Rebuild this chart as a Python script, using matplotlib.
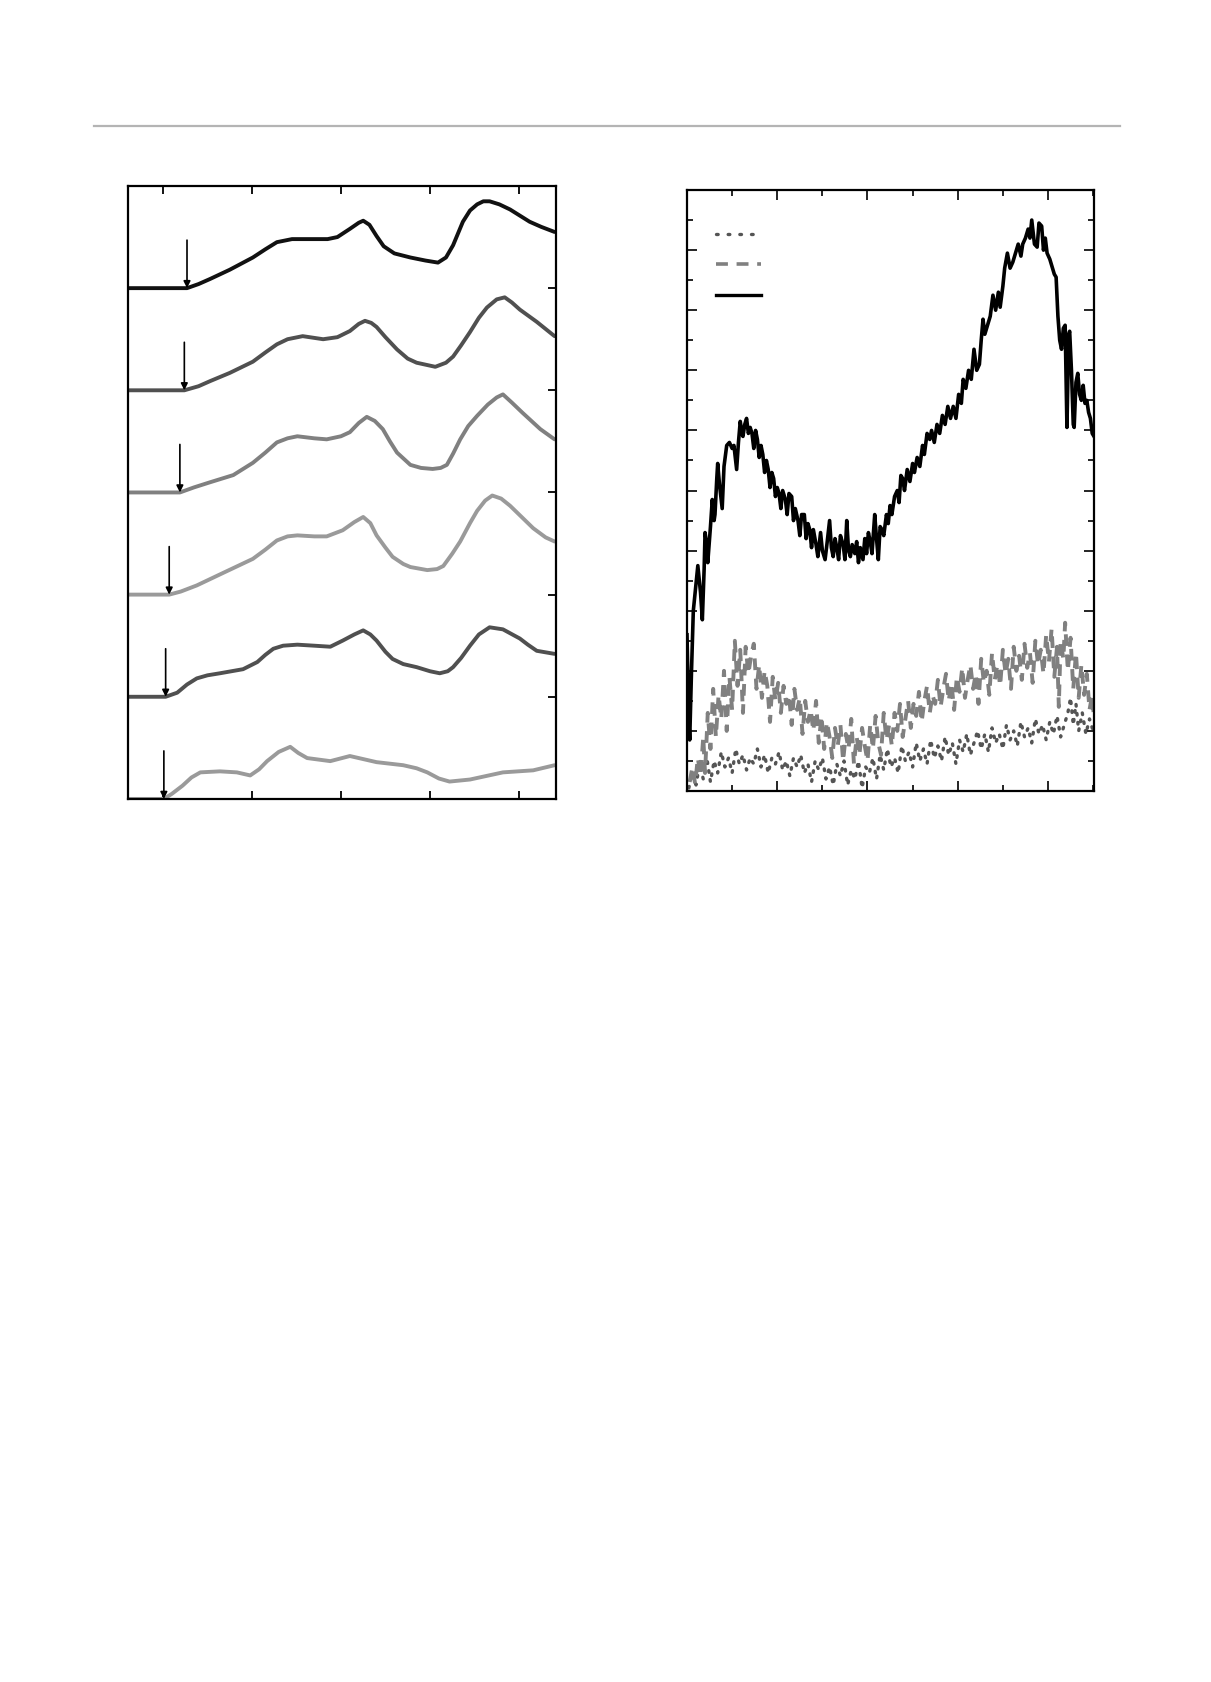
import numpy as np
import matplotlib.pyplot as plt
from matplotlib.lines import Line2D
from matplotlib.ticker import MultipleLocator

# ---- left panel: six stacked traces (x, height above own baseline) ----
trace1 = [(0.61, 0), (1.27, 0), (1.40, 0.04), (1.53, 0.09), (1.75, 0.18), (2.01, 0.30),
          (2.15, 0.38), (2.28, 0.45), (2.45, 0.48), (2.65, 0.48), (2.85, 0.48), (2.96, 0.50),
          (3.10, 0.58), (3.20, 0.64), (3.25, 0.66), (3.32, 0.62), (3.40, 0.51), (3.48, 0.41),
          (3.60, 0.34), (3.78, 0.30), (3.95, 0.27), (4.09, 0.25), (4.18, 0.30), (4.26, 0.42),
          (4.37, 0.65), (4.45, 0.76), (4.53, 0.82), (4.60, 0.85), (4.67, 0.85), (4.78, 0.82),
          (4.90, 0.77), (5.12, 0.65), (5.25, 0.60), (5.40, 0.55)]
trace2 = [(0.61, 0), (1.24, 0), (1.40, 0.04), (1.53, 0.09), (1.75, 0.17), (2.01, 0.28),
          (2.15, 0.37), (2.28, 0.45), (2.40, 0.50), (2.57, 0.53), (2.80, 0.50), (2.96, 0.52),
          (3.10, 0.58), (3.20, 0.65), (3.27, 0.68), (3.34, 0.66), (3.40, 0.62), (3.50, 0.52),
          (3.63, 0.40), (3.75, 0.31), (3.85, 0.27), (4.06, 0.23), (4.18, 0.27), (4.26, 0.33),
          (4.35, 0.44), (4.45, 0.57), (4.55, 0.71), (4.64, 0.81), (4.75, 0.89), (4.84, 0.91),
          (4.92, 0.86), (5.01, 0.79), (5.20, 0.67), (5.40, 0.53)]
trace3 = [(0.61, 0), (1.19, 0), (1.35, 0.05), (1.53, 0.10), (1.79, 0.17), (2.01, 0.29),
          (2.15, 0.39), (2.28, 0.49), (2.40, 0.53), (2.51, 0.55), (2.70, 0.53), (2.84, 0.52),
          (3.00, 0.55), (3.10, 0.59), (3.20, 0.68), (3.29, 0.74), (3.38, 0.70), (3.47, 0.62),
          (3.55, 0.50), (3.63, 0.39), (3.78, 0.27), (3.90, 0.24), (4.03, 0.23), (4.12, 0.24),
          (4.19, 0.27), (4.26, 0.38), (4.34, 0.52), (4.43, 0.65), (4.53, 0.75), (4.65, 0.86),
          (4.75, 0.93), (4.82, 0.96), (4.92, 0.88), (5.04, 0.78), (5.24, 0.62), (5.40, 0.52)]
trace4 = [(0.61, 0), (1.07, 0), (1.20, 0.03), (1.38, 0.09), (1.67, 0.21), (2.01, 0.35),
          (2.15, 0.44), (2.28, 0.53), (2.40, 0.57), (2.51, 0.58), (2.70, 0.57), (2.84, 0.57),
          (3.02, 0.63), (3.15, 0.71), (3.25, 0.76), (3.33, 0.70), (3.40, 0.58), (3.50, 0.46),
          (3.58, 0.37), (3.70, 0.30), (3.78, 0.27), (3.97, 0.24), (4.08, 0.25), (4.15, 0.28),
          (4.25, 0.40), (4.34, 0.52), (4.45, 0.70), (4.53, 0.82), (4.62, 0.92), (4.70, 0.97),
          (4.80, 0.94), (4.90, 0.87), (5.03, 0.76), (5.16, 0.65), (5.30, 0.56), (5.40, 0.52)]
trace5 = [(0.61, 0), (1.03, 0), (1.16, 0.04), (1.27, 0.12), (1.38, 0.18), (1.50, 0.21),
          (1.64, 0.23), (1.90, 0.27), (2.06, 0.34), (2.15, 0.41), (2.24, 0.47), (2.35, 0.50),
          (2.51, 0.51), (2.70, 0.50), (2.88, 0.49), (3.02, 0.55), (3.15, 0.61), (3.25, 0.65),
          (3.33, 0.61), (3.40, 0.55), (3.50, 0.44), (3.58, 0.37), (3.70, 0.32), (3.85, 0.29),
          (4.00, 0.25), (4.11, 0.23), (4.20, 0.25), (4.26, 0.29), (4.35, 0.38), (4.45, 0.50),
          (4.55, 0.61), (4.67, 0.68), (4.82, 0.66), (5.01, 0.57), (5.10, 0.51), (5.20, 0.45),
          (5.40, 0.42)]
trace6 = [(0.61, 0), (1.01, 0), (1.10, 0.05), (1.22, 0.13), (1.32, 0.21), (1.42, 0.26),
          (1.64, 0.27), (1.83, 0.26), (1.98, 0.23), (2.08, 0.29), (2.17, 0.37), (2.30, 0.46),
          (2.43, 0.51), (2.52, 0.45), (2.62, 0.40), (2.88, 0.37), (3.10, 0.42), (3.25, 0.39),
          (3.40, 0.36), (3.70, 0.33), (3.85, 0.30), (3.97, 0.26), (4.10, 0.20), (4.22, 0.17),
          (4.45, 0.19), (4.82, 0.26), (5.16, 0.28), (5.40, 0.33)]
traces = [trace1, trace2, trace3, trace4, trace5, trace6]
offsets = [5, 4, 3, 2, 1, 0]
colors = ["#111111", "#505050", "#808080", "#9a9a9a", "#505050", "#9a9a9a"]
arrow_x = [1.27, 1.24, 1.19, 1.07, 1.03, 1.01]
arrow_len = 0.47

# ---- right panel: three noisy curves (x, y) ----
solid_pts = [(0.00, 2.6), (0.02, 1.2), (0.03, 0.85), (0.05, 2.0), (0.07, 3.0), (0.09, 3.3),
             (0.12, 3.75), (0.15, 3.3), (0.17, 2.85), (0.19, 3.7), (0.20, 4.3), (0.22, 4.1),
             (0.23, 3.8), (0.26, 4.4), (0.28, 4.85), (0.30, 4.5), (0.31, 4.6), (0.33, 5.2),
             (0.34, 5.45), (0.36, 5.1), (0.39, 4.7), (0.41, 5.4), (0.44, 5.75), (0.47, 5.8),
             (0.50, 5.7), (0.52, 5.75), (0.55, 5.35), (0.57, 5.8), (0.59, 6.15), (0.61, 5.95),
             (0.62, 5.9), (0.64, 6.1), (0.66, 6.2), (0.68, 5.95), (0.70, 6.05), (0.72, 5.95),
             (0.74, 5.7), (0.76, 6.0), (0.78, 5.85), (0.80, 5.55), (0.82, 5.75), (0.84, 5.6),
             (0.86, 5.3), (0.88, 5.5), (0.90, 5.35), (0.92, 5.05), (0.94, 5.3), (0.96, 5.2),
             (0.98, 4.9), (1.00, 5.05), (1.02, 4.95), (1.04, 4.7), (1.06, 5.0), (1.09, 4.85),
             (1.11, 4.6), (1.13, 4.95), (1.16, 4.9), (1.18, 4.5), (1.20, 4.7), (1.23, 4.5),
             (1.25, 4.25), (1.27, 4.6), (1.30, 4.6), (1.32, 4.2), (1.34, 4.45), (1.36, 4.35),
             (1.38, 4.05), (1.40, 4.35), (1.43, 4.1), (1.45, 3.9), (1.48, 4.3), (1.50, 4.0),
             (1.53, 3.85), (1.55, 4.1), (1.58, 4.5), (1.60, 4.05), (1.62, 3.9), (1.64, 4.2),
             (1.66, 4.05), (1.68, 3.85), (1.70, 4.25), (1.73, 4.1), (1.75, 3.85), (1.77, 4.5),
             (1.79, 4.0), (1.81, 3.9), (1.83, 4.1), (1.86, 3.95), (1.88, 4.15), (1.90, 3.8),
             (1.92, 4.05), (1.95, 3.85), (1.97, 4.2), (1.99, 3.95), (2.01, 4.3), (2.03, 4.15),
             (2.05, 3.95), (2.08, 4.6), (2.10, 4.2), (2.12, 3.85), (2.14, 4.4), (2.16, 4.35),
             (2.18, 4.25), (2.21, 4.6), (2.23, 4.45), (2.25, 4.75), (2.27, 4.6), (2.30, 4.9),
             (2.33, 5.0), (2.35, 4.8), (2.37, 5.25), (2.39, 5.2), (2.41, 5.0), (2.44, 5.35),
             (2.47, 5.15), (2.50, 5.45), (2.52, 5.3), (2.55, 5.55), (2.58, 5.4), (2.61, 5.75),
             (2.63, 5.6), (2.66, 5.95), (2.69, 5.85), (2.71, 6.0), (2.74, 5.8), (2.77, 6.1),
             (2.80, 5.95), (2.83, 6.25), (2.86, 6.1), (2.89, 6.4), (2.92, 6.2), (2.95, 6.4),
             (2.98, 6.2), (3.01, 6.6), (3.04, 6.45), (3.06, 6.85), (3.09, 6.7), (3.12, 7.0),
             (3.15, 6.85), (3.18, 7.35), (3.21, 7.0), (3.24, 7.1), (3.26, 7.5), (3.28, 7.85),
             (3.30, 7.6), (3.33, 7.75), (3.36, 7.9), (3.39, 8.25), (3.42, 8.0), (3.45, 8.3),
             (3.47, 8.05), (3.50, 8.4), (3.52, 8.7), (3.55, 8.95), (3.58, 8.7), (3.61, 8.8),
             (3.64, 8.95), (3.67, 9.1), (3.70, 8.9), (3.72, 9.1), (3.75, 9.2), (3.78, 9.35),
             (3.80, 9.2), (3.82, 9.5), (3.85, 9.1), (3.88, 9.05), (3.90, 9.45), (3.93, 9.4),
             (3.95, 9.0), (3.97, 9.2), (3.99, 8.95), (4.02, 8.85), (4.04, 8.75), (4.07, 8.6),
             (4.09, 8.55), (4.11, 7.9), (4.13, 7.5), (4.15, 7.35), (4.17, 7.7), (4.19, 7.75),
             (4.21, 6.05), (4.23, 7.6), (4.24, 7.65), (4.26, 7.0), (4.28, 6.1), (4.29, 6.05),
             (4.31, 6.8), (4.33, 6.95), (4.35, 6.6), (4.37, 6.5), (4.39, 6.75), (4.41, 6.45),
             (4.43, 6.5), (4.45, 6.3), (4.47, 6.2), (4.49, 5.95), (4.51, 5.9)]

dashed_pts = [(0.03, 0.15), (0.06, 0.4), (0.09, 0.12), (0.12, 0.55), (0.15, 0.25), (0.18, 0.9),
              (0.20, 0.3), (0.23, 1.3), (0.26, 0.7), (0.29, 1.7), (0.32, 0.9), (0.35, 1.6),
              (0.38, 1.2), (0.41, 2.0), (0.44, 1.0), (0.47, 1.9), (0.50, 1.35), (0.53, 2.5),
              (0.56, 1.75), (0.59, 2.35), (0.62, 1.3), (0.65, 2.4), (0.68, 1.95), (0.71, 2.25),
              (0.74, 2.45), (0.77, 1.7), (0.80, 2.1), (0.83, 1.55), (0.86, 2.0), (0.89, 1.75),
              (0.92, 1.15), (0.95, 1.9), (0.98, 1.5), (1.01, 1.8), (1.04, 1.3), (1.07, 1.75),
              (1.10, 1.45), (1.13, 1.6), (1.16, 1.1), (1.19, 1.7), (1.22, 1.35), (1.25, 1.55),
              (1.28, 0.95), (1.31, 1.5), (1.34, 1.15), (1.37, 1.35), (1.40, 1.0), (1.43, 1.5),
              (1.46, 0.8), (1.49, 1.25), (1.52, 0.7), (1.55, 1.15), (1.58, 0.9), (1.61, 0.55),
              (1.64, 1.05), (1.67, 0.75), (1.70, 1.1), (1.73, 0.5), (1.76, 0.95), (1.79, 0.7),
              (1.82, 1.2), (1.85, 0.45), (1.88, 0.9), (1.91, 0.6), (1.94, 1.05), (1.97, 0.75),
              (2.00, 0.5), (2.03, 1.1), (2.06, 0.7), (2.09, 1.25), (2.12, 0.8), (2.15, 0.6),
              (2.18, 1.3), (2.21, 0.85), (2.24, 1.1), (2.27, 0.75), (2.30, 1.3), (2.33, 1.0),
              (2.36, 1.45), (2.39, 0.9), (2.42, 1.2), (2.45, 1.5), (2.48, 1.05), (2.51, 1.45),
              (2.54, 1.25), (2.57, 1.65), (2.60, 1.15), (2.63, 1.5), (2.66, 1.75), (2.69, 1.3),
              (2.72, 1.6), (2.75, 1.45), (2.78, 1.85), (2.81, 1.4), (2.84, 1.7), (2.87, 1.95),
              (2.90, 1.5), (2.93, 1.8), (2.96, 1.35), (2.99, 1.9), (3.02, 1.65), (3.05, 2.05),
              (3.08, 1.55), (3.11, 1.85), (3.14, 2.1), (3.17, 1.7), (3.20, 1.95), (3.23, 1.45),
              (3.26, 2.2), (3.29, 1.8), (3.32, 2.0), (3.35, 1.6), (3.38, 2.3), (3.41, 1.85),
              (3.44, 2.1), (3.47, 1.75), (3.50, 2.35), (3.53, 1.95), (3.56, 2.2), (3.59, 1.7),
              (3.62, 2.4), (3.65, 2.0), (3.68, 2.25), (3.71, 1.85), (3.74, 2.45), (3.77, 2.05),
              (3.80, 2.3), (3.83, 1.8), (3.86, 2.5), (3.89, 2.1), (3.92, 2.35), (3.95, 1.95),
              (3.98, 2.6), (4.01, 2.15), (4.04, 2.7), (4.07, 1.9), (4.10, 2.4), (4.12, 1.4),
              (4.14, 2.5), (4.17, 2.2), (4.19, 2.8), (4.22, 2.0), (4.25, 2.55), (4.28, 1.7),
              (4.31, 2.3), (4.34, 1.55), (4.37, 2.1), (4.40, 1.6), (4.43, 1.95), (4.46, 1.35),
              (4.49, 1.6), (4.51, 1.2)]

dotted_pts = [(0.02, 0.05), (0.06, 0.3), (0.10, 0.1), (0.14, 0.45), (0.18, 0.2), (0.22, 0.55),
              (0.26, 0.15), (0.30, 0.5), (0.34, 0.3), (0.38, 0.65), (0.42, 0.4), (0.46, 0.55),
              (0.50, 0.3), (0.54, 0.7), (0.58, 0.45), (0.62, 0.6), (0.66, 0.35), (0.70, 0.55),
              (0.74, 0.45), (0.78, 0.7), (0.82, 0.4), (0.86, 0.6), (0.90, 0.3), (0.94, 0.55),
              (0.98, 0.45), (1.02, 0.65), (1.06, 0.35), (1.10, 0.5), (1.14, 0.25), (1.18, 0.55),
              (1.22, 0.4), (1.26, 0.6), (1.30, 0.3), (1.34, 0.45), (1.38, 0.15), (1.42, 0.5),
              (1.46, 0.35), (1.50, 0.55), (1.54, 0.2), (1.58, 0.4), (1.62, 0.1), (1.66, 0.45),
              (1.70, 0.25), (1.74, 0.5), (1.78, 0.1), (1.82, 0.35), (1.86, 0.2), (1.90, 0.5),
              (1.94, 0.05), (1.98, 0.4), (2.02, 0.3), (2.06, 0.55), (2.10, 0.2), (2.14, 0.6),
              (2.18, 0.35), (2.22, 0.7), (2.26, 0.4), (2.30, 0.55), (2.34, 0.3), (2.38, 0.75),
              (2.42, 0.5), (2.46, 0.65), (2.50, 0.4), (2.54, 0.8), (2.58, 0.5), (2.62, 0.7),
              (2.66, 0.45), (2.70, 0.85), (2.74, 0.55), (2.78, 0.75), (2.82, 0.5), (2.86, 0.9),
              (2.90, 0.6), (2.94, 0.8), (2.98, 0.45), (3.02, 0.85), (3.06, 0.65), (3.10, 0.95),
              (3.14, 0.6), (3.18, 0.8), (3.22, 1.0), (3.26, 0.7), (3.30, 0.95), (3.34, 0.65),
              (3.38, 1.05), (3.42, 0.8), (3.46, 0.95), (3.50, 0.7), (3.54, 1.1), (3.58, 0.85),
              (3.62, 1.0), (3.66, 0.75), (3.70, 1.15), (3.74, 0.9), (3.78, 1.05), (3.82, 0.8),
              (3.86, 1.2), (3.90, 0.95), (3.94, 1.1), (3.98, 0.85), (4.02, 1.15), (4.06, 0.95),
              (4.10, 1.25), (4.14, 0.9), (4.18, 1.1), (4.22, 1.3), (4.25, 1.55), (4.28, 1.1),
              (4.31, 1.45), (4.34, 1.0), (4.38, 1.3), (4.42, 0.95), (4.46, 1.2), (4.50, 1.0)]

fig = plt.figure(figsize=(12.11, 16.83), dpi=100)

# thin grey rule above the panels
fig.add_artist(Line2D([0.078, 0.925], [0.9245, 0.9245], transform=fig.transFigure,
                      color="#b4b4b4", lw=1.6))

# ---------------- left panel ----------------
axL = fig.add_axes([0.1057, 0.5247, 0.3534, 0.3642])
for tr, off, c, ax_x in zip(traces, offsets, colors, arrow_x):
    x, y = np.array(tr).T
    axL.plot(x, y + off, color=c, lw=2.8, solid_capstyle="round", solid_joinstyle="round")
    axL.annotate("", xy=(ax_x, off), xytext=(ax_x, off + arrow_len),
                 arrowprops=dict(arrowstyle="-|>", color="black", lw=1.2,
                                 mutation_scale=10, shrinkA=0, shrinkB=0))
axL.set_xlim(0.607, 5.416)
axL.set_ylim(0, 6)
axL.xaxis.set_major_locator(MultipleLocator(1))
axL.yaxis.set_major_locator(MultipleLocator(1))
axL.tick_params(axis="x", which="both", direction="in", top=True, bottom=True,
                length=6, width=1.3, labelbottom=False)
axL.tick_params(axis="y", which="both", direction="in", left=False, right=True,
                length=6, width=1.3, labelleft=False)

# ---------------- right panel ----------------
axR = fig.add_axes([0.5673, 0.5294, 0.3361, 0.3571])
dx, dy = np.array(dotted_pts).T
hx, hy = np.array(dashed_pts).T
sx, sy = np.array(solid_pts).T
axR.plot(dx, dy, color="#555555", lw=2.4, linestyle=(0, (0.5, 2.2)), dash_capstyle="round")
axR.plot(hx, hy, color="#808080", lw=2.8, linestyle=(0, (3.0, 2.2)))
axR.plot(sx, sy, color="black", lw=2.6)
axR.set_xlim(0, 4.51)
axR.set_ylim(0, 10)
axR.xaxis.set_major_locator(MultipleLocator(1))
axR.xaxis.set_minor_locator(MultipleLocator(0.5))
axR.yaxis.set_major_locator(MultipleLocator(1))
axR.yaxis.set_minor_locator(MultipleLocator(0.5))
axR.tick_params(which="both", direction="in", top=True, bottom=True, left=True, right=True,
                width=1.2, labelbottom=False, labelleft=False)
axR.tick_params(which="major", length=7)
axR.tick_params(which="minor", length=4)

handles = [Line2D([], [], color="#555555", lw=2.4, linestyle=(0, (0.5, 3.0)), dash_capstyle="round"),
           Line2D([], [], color="#808080", lw=2.6, linestyle=(0, (3.3, 2.4))),
           Line2D([], [], color="black", lw=2.4)]
axR.legend(handles, ["", "", ""], loc="upper left", bbox_to_anchor=(0.05, 0.955),
           frameon=False, handlelength=2.7, labelspacing=0.75, fontsize=12,
           borderpad=0, handletextpad=0)

for ax in (axL, axR):
    for s in ax.spines.values():
        s.set_linewidth(1.6)
        s.set_color("black")

fig.savefig("out.png", dpi=100)
